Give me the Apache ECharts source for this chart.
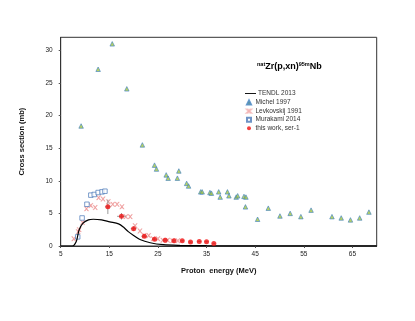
<!DOCTYPE html>
<html>
<head>
<meta charset="utf-8">
<script src="https://cdn.jsdelivr.net/npm/echarts@6/dist/echarts.min.js"></script>
<style>
html, body { margin: 0; padding: 0; background: #fff; }
#chart { width: 415px; height: 321px; }
</style>
</head>
<body>
<div id="chart"></div>
<script>
// TENDL 2013 curve
const tendlX = [5, 7, 7.6, 8.0, 8.3, 8.8, 9.6, 10.7, 11.7, 13.4, 15.1, 16.9, 17.9, 18.9, 20.0, 21.3, 23.4, 26.1, 29.5, 35, 45, 55, 70];
const tendlY = [0, 0, 0.05, 0.4, 0.9, 2.5, 3.5, 4.0, 4.1, 4.0, 3.7, 3.4, 2.9, 2.2, 1.6, 1.0, 0.5, 0.2, 0.1, 0.05, 0.02, 0.01, 0.01];

// Michel 1997
const michelX = [9.2, 12.7, 15.6, 18.6, 21.8, 24.3, 24.7, 26.7, 27.1, 29.0, 29.3, 30.9, 31.3, 33.8, 34.1, 35.7, 36.0, 37.5, 37.8, 39.3, 39.6, 41.1, 41.4, 42.7, 43.1, 43.0, 45.5, 47.7, 50.1, 52.2, 54.4, 56.5, 60.8, 62.7, 64.6, 66.5, 68.4];
const michelY = [18.4, 27.1, 31.0, 24.1, 15.5, 12.4, 11.8, 10.9, 10.4, 10.4, 11.5, 9.6, 9.2, 8.3, 8.3, 8.2, 8.1, 8.3, 7.5, 8.3, 7.7, 7.5, 7.7, 7.6, 7.5, 6.0, 4.1, 5.8, 4.6, 5.0, 4.5, 5.5, 4.5, 4.3, 4.0, 4.3, 5.2];

// Levkovskij 1991
const levX = [7.7, 8.6, 8.8, 9.5, 10.3, 11.2, 12.1, 12.8, 13.7, 14.8, 15.7, 16.6, 17.6, 18.4, 19.3, 20.3, 21.3, 22.2, 23.1, 24.0, 25.0, 26.0, 27.0, 28.0, 29.1];
const levY = [1.1, 2.2, 2.5, 3.6, 5.7, 6.2, 5.9, 7.4, 7.2, 6.8, 6.4, 6.4, 6.0, 4.5, 4.5, 3.1, 2.3, 1.6, 1.6, 1.1, 1.1, 0.9, 0.9, 0.8, 0.8];

// Murakami 2014
const murX = [8.5, 9.4, 10.4, 11.2, 11.9, 12.7, 13.5, 14.1];
const murY = [1.4, 4.3, 6.4, 7.8, 7.9, 8.2, 8.3, 8.4];

// this work, ser-1
const workX = [14.7, 17.5, 20.0, 22.2, 24.3, 26.5, 28.3, 30.0, 31.7, 33.5, 35.0, 36.5];
const workY = [6.0, 4.55, 2.65, 1.5, 1.05, 0.9, 0.8, 0.8, 0.6, 0.7, 0.65, 0.4];
const workErrX = [0.6, 0.9, 0.6, 0.6, 0.5, 0.5, 0.4, 0.4, 0.4, 0.4, 0.4, 0.3];
const workErrY = [1.1, 0.5, 0.35, 0.2, 0.15, 0.1, 0.1, 0.1, 0.08, 0.08, 0.08, 0.06];

const zip = (xs, ys) => xs.map((x, i) => [x, ys[i]]);
const crossPath = 'path://M0,0L2,0L5,3L8,0L10,0L6,4L10,8L8,8L5,5L2,8L0,8L4,4Z';

const errData = workX.map((x, i) => [x, workY[i], workErrX[i], workErrY[i]]);

const chart = echarts.init(document.getElementById('chart'));
chart.setOption({
    animation: false,
    backgroundColor: '#fff',
    textStyle: { fontFamily: 'Liberation Sans, Arial, sans-serif' },
    title: {
        text: '{sup|nat}{b|Zr(p,xn)}{sup|95m}{b|Nb}',
        left: 252, top: 56,
        textStyle: {
            rich: {
                b: { fontSize: 9, fontWeight: 'bold', color: '#000', fontFamily: 'Liberation Sans' },
                sup: { fontSize: 5.5, fontWeight: 'bold', color: '#000', verticalAlign: 'top', padding: [0, 0, 5, 0], fontFamily: 'Liberation Sans' }
            }
        }
    },
    legend: [
        {
            orient: 'vertical', left: 240, top: 85,
            itemWidth: 11, itemHeight: 5,
            textStyle: { fontSize: 6.5, color: '#333', padding: [0, 0, 0, -3] },
            data: [{ name: 'TENDL 2013', icon: 'path://M0,0L12,0L12,1L0,1Z' }]
        },
        {
            orient: 'vertical', left: 241, top: 94,
            itemWidth: 4, itemHeight: 4, itemGap: 1.6,
            textStyle: { fontSize: 6.5, color: '#333', padding: [0, 0, 0, -0.5] },
            data: ['Michel 1997', 'Levkovskij 1991', 'Murakami 2014', 'this work, ser-1']
        }
    ],
    grid: { left: 60.7, right: 38.3, top: 37.3, bottom: 75, show: true, borderColor: '#333', borderWidth: 1 },
    xAxis: {
        type: 'value', min: 5, max: 70, interval: 10,
        name: 'Proton  energy (MeV)', nameLocation: 'middle', nameGap: 21,
        nameTextStyle: { fontSize: 7.5, fontWeight: 'bold', color: '#111' },
        axisLine: { lineStyle: { color: '#333' } },
        axisTick: { length: 2, lineStyle: { color: '#555' } },
        axisLabel: { fontSize: 6.5, color: '#222', margin: 5, showMaxLabel: false },
        splitLine: { show: false }
    },
    yAxis: {
        type: 'value', min: 0, max: 32, interval: 5,
        name: 'Cross section (mb)', nameLocation: 'middle', nameGap: 35,
        nameTextStyle: { fontSize: 7.5, fontWeight: 'bold', color: '#111' },
        axisLine: { lineStyle: { color: '#333' } },
        axisTick: { length: 2, lineStyle: { color: '#555' } },
        axisLabel: { fontSize: 6.5, color: '#222', margin: 8, showMaxLabel: false },
        splitLine: { show: false }
    },
    series: [
        {
            name: 'TENDL 2013', type: 'line', data: zip(tendlX, tendlY),
            smooth: 0.3, showSymbol: false, symbol: 'none',
            lineStyle: { color: '#000', width: 1.2 }, itemStyle: { color: '#000' }, z: 3
        },
        {
            name: 'Michel 1997', type: 'scatter', data: zip(michelX, michelY),
            symbol: 'triangle', symbolSize: 4.5,
            itemStyle: { color: '#a8c83a', borderColor: '#3f7fc4', borderWidth: 0.8 }
        },
        {
            name: 'Levkovskij 1991', type: 'scatter', data: zip(levX, levY),
            symbol: crossPath, symbolSize: 4.5,
            itemStyle: { color: '#e05a5a', borderColor: '#f4b8b8', borderWidth: 0.6 }
        },
        {
            name: 'Murakami 2014', type: 'scatter', data: zip(murX, murY),
            symbol: 'rect', symbolSize: 4.5,
            itemStyle: { color: '#fff', borderColor: '#4a78b8', borderWidth: 0.9 }
        },
        {
            name: 'err', type: 'custom', data: errData, z: 4,
            renderItem: function (params, api) {
                const x = api.value(0), y = api.value(1), ex = api.value(2), ey = api.value(3);
                const l = api.coord([x - ex, y]), r = api.coord([x + ex, y]);
                const t = api.coord([x, y + ey]), b = api.coord([x, y - ey]);
                const st = { stroke: '#9a9a9a', lineWidth: 1 };
                return {
                    type: 'group',
                    children: [
                        { type: 'line', shape: { x1: l[0], y1: l[1], x2: r[0], y2: r[1] }, style: st },
                        { type: 'line', shape: { x1: t[0], y1: t[1], x2: b[0], y2: b[1] }, style: st }
                    ]
                };
            }
        },
        {
            name: 'this work, ser-1', type: 'scatter', data: zip(workX, workY),
            symbol: 'circle', symbolSize: 5, z: 5,
            itemStyle: { color: '#f01010' }
        }
    ]
});
</script>
</body>
</html>
